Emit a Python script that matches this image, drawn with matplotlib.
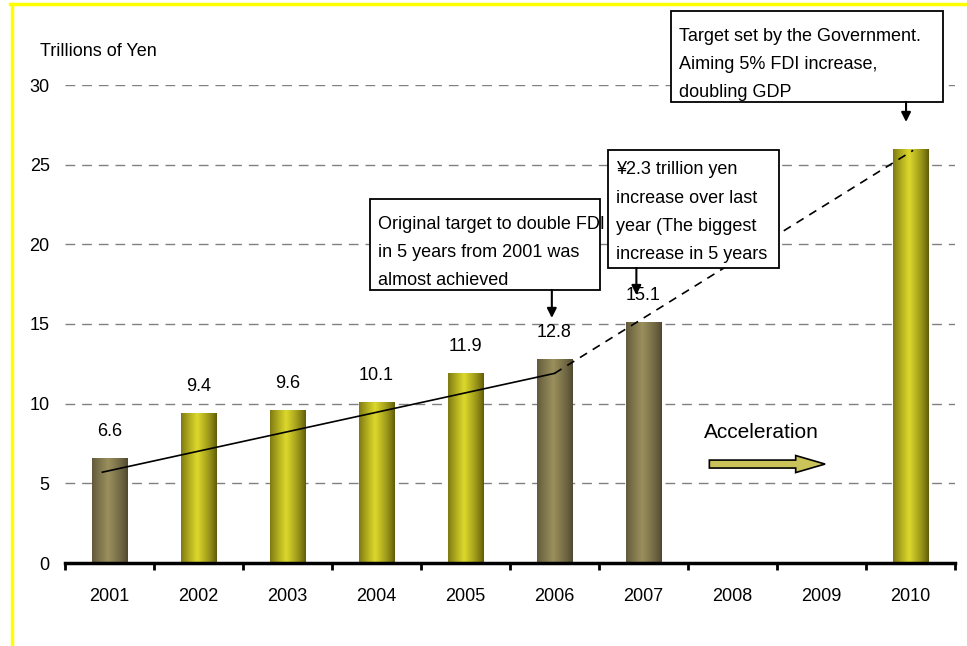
import numpy as np
import matplotlib
matplotlib.use("Agg")
import matplotlib.pyplot as plt
from matplotlib import font_manager
from matplotlib.lines import Line2D
from matplotlib.patches import Rectangle, FancyArrow

# FDI stock, trillions of yen
years = ["2001", "2002", "2003", "2004", "2005", "2006", "2007", "2008", "2009", "2010"]
values = [6.6, 9.4, 9.6, 10.1, 11.9, 12.8, 15.1, np.nan, np.nan, 26.0]
labels = ["6.6", "9.4", "9.6", "10.1", "11.9", "12.8", "15.1", "", "", ""]
kind = ["actual", "plan", "plan", "plan", "plan", "actual", "actual", "", "", "plan"]

# trend lines: achieved path and path to the 2010 target
trend_x = [-0.08, 5.0]
trend_y = [5.7, 11.9]
target_x = [5.0, 9.03]
target_y = [11.9, 25.9]

note_fdi = "Original target to double FDI\nin 5 years from 2001 was\nalmost achieved"
note_2007 = "¥2.3 trillion yen\nincrease over last\nyear (The biggest\nincrease in 5 years"
note_gov = "Target set by the Government.\nAiming 5% FDI increase,\ndoubling GDP"


def pick_font():
    for name in ["Liberation Sans Narrow", "Liberation Sans"]:
        try:
            font_manager.findfont(name, fallback_to_default=False)
            return name
        except Exception:
            pass
    return "DejaVu Sans"


FONT = pick_font()
plt.rcParams["font.family"] = [FONT, "DejaVu Sans"]

fig = plt.figure(figsize=(9.67, 6.46), dpi=100)
ax = fig.add_axes([65 / 967, 1 - 563 / 646, 890 / 967, 478 / 646])

x = np.arange(len(years))
ax.set_xlim(-0.5, 9.5)
ax.set_ylim(0, 30)

# dashed grid
for g in [5, 10, 15, 20, 25, 30]:
    ax.axhline(g, color="#808080", lw=1, dashes=(7, 5), zorder=0)

edge_cols = {"actual": ("#4f4830", "#9a8f5c"), "plan": ("#5f5a08", "#dcd82c")}


def gradient(dark, light, n=64):
    d = np.array(matplotlib.colors.to_rgb(dark))
    l = np.array(matplotlib.colors.to_rgb(light))
    t = np.linspace(0, 1, n)
    w = np.clip(1 - np.abs(t - 0.45) / 0.55, 0, 1) ** 0.8
    return (d[None, :] * (1 - w[:, None]) + l[None, :] * w[:, None])[None, :, :]


bars = ax.bar(x, np.nan_to_num(values), width=0.4, color="none", zorder=2)
for b, k in zip(bars, kind):
    if not k or b.get_height() == 0:
        continue
    img = ax.imshow(gradient(*edge_cols[k]), aspect="auto", zorder=2,
                    extent=(b.get_x(), b.get_x() + b.get_width(), 0, b.get_height()))
    img.set_clip_path(b)

for xi, v, lab in zip(x, values, labels):
    if lab:
        ax.annotate(lab, (xi, v), xytext=(0, 13), textcoords="offset points",
                    ha="center", va="bottom", fontsize=13)

ax.plot(trend_x, trend_y, color="black", lw=1.2, zorder=3)
ax.plot(target_x, target_y, color="black", lw=1.2, ls=(0, (5, 4)), zorder=3)

# axes styling
for s in ["top", "right", "left"]:
    ax.spines[s].set_visible(False)
ax.spines["bottom"].set_linewidth(2.5)
ax.set_xticks(np.arange(-0.5, 10, 1))
ax.set_xticklabels([])
ax.set_xticks(x, minor=True)
ax.set_xticklabels(years, minor=True, fontsize=13)
ax.tick_params(axis="x", which="major", direction="out", length=5, width=2)
ax.tick_params(axis="x", which="minor", length=0, pad=18)
ax.set_yticks([0, 5, 10, 15, 20, 25, 30])
ax.tick_params(axis="y", length=0, pad=11, labelsize=13)
ax.set_yticklabels(["0", "5", "10", "15", "20", "25", "30"])

fig.text(40 / 967, 1 - 52 / 646, "Trillions of Yen", fontsize=13, va="center", ha="left")


def note(x0, x1, y0, y1, text, tx, ty, fs=13):
    ax.add_patch(Rectangle((x0, y0), x1 - x0, y1 - y0, fill=True, fc="white",
                           ec="black", lw=1.3, clip_on=False, zorder=5))
    ax.text(tx, ty, text, ha="left", va="top", fontsize=fs, linespacing=1.85,
            clip_on=False, zorder=6)


def down_arrow(xa, y_from, y_to):
    ax.annotate("", xy=(xa, y_to), xytext=(xa, y_from), annotation_clip=False,
                arrowprops=dict(arrowstyle="-|>", color="black", lw=1.5,
                                mutation_scale=14, shrinkA=0, shrinkB=0), zorder=6)


note(2.93, 5.51, 17.14, 22.85, note_fdi, 3.02, 21.8)
down_arrow(4.97, 17.14, 15.38)
note(5.60, 7.52, 18.52, 25.93, note_2007, 5.69, 25.2)
down_arrow(5.92, 18.52, 16.82)
note(6.31, 9.36, 28.94, 34.65, note_gov, 6.40, 33.6)
down_arrow(8.95, 28.94, 27.68)

ax.text(7.33, 8.16, "Acceleration", ha="center", va="center", fontsize=15)
ax.add_patch(FancyArrow(6.74, 6.21, 1.30, 0, width=0.5, head_width=1.07,
                        head_length=0.33, length_includes_head=True,
                        fc="#c9c35a", ec="black", lw=1.2, zorder=4))

# yellow frame
fig.add_artist(Line2D([10 / 967, 1], [1 - 3.5 / 646] * 2, color="#ffff00", lw=2.5,
                      transform=fig.transFigure))
fig.add_artist(Line2D([11.5 / 967] * 2, [0, 1 - 3.5 / 646], color="#ffff00", lw=2.5,
                      transform=fig.transFigure))

fig.savefig("out.png", dpi=100)
